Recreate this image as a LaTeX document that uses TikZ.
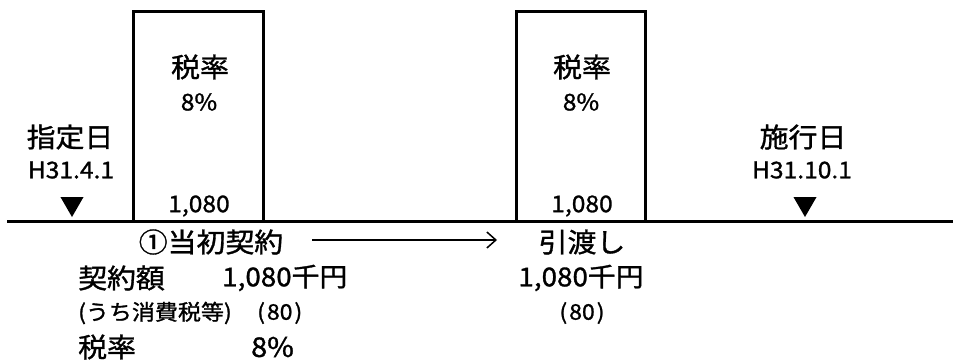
\documentclass[tikz,border=0pt]{standalone}
\usepackage{fontspec}
\setmainfont{Noto Sans CJK JP}[FakeStretch=1.07, FakeBold=1.2]
\usetikzlibrary{arrows.meta,shapes.geometric}
\begin{document}
\begin{tikzpicture}[x=1pt,y=-1pt,
  big/.style={font=\fontsize{27}{30}\selectfont, inner sep=0pt},
  amount/.style={font=\fontsize{26}{30}\selectfont, inner sep=0pt},
  mid/.style={font=\fontsize{23}{26}\selectfont, inner sep=0pt},
  small/.style={font=\fontsize{21.5}{24}\selectfont, inner sep=0pt},
  period/.style={draw=black, line width=3pt},
  datemark/.style={regular polygon, regular polygon sides=3, shape border rotate=180, fill=black, draw=none, minimum size=26.6pt, inner sep=0pt}
]
\useasboundingbox (0,0) rectangle (953,361);
% timeline
\coordinate (L0) at (7,221);
\coordinate (L1) at (953,221);
\draw[line width=3pt] (L0) -- (L1);
% boxes
\draw[period] (133,221) -- (133,12) -- (263,12) -- (263,221);
\draw[period] (516,221) -- (516,12) -- (645,12) -- (645,221);
% box texts
\node[big] (r1) at (200,67) {税率};
\node[mid] (p1) at (199,102) {8\%};
\node[mid] (a1) at (199,206) {1,080};
\node[big] (r2) at (582,67) {税率};
\node[mid] (p2) at (581,102) {8\%};
\node[mid] (a2) at (582,206) {1,080};
% dates
\node[big] (d1) at (70,137) {指定日};
\node[mid] (d1b) at (71,170) {H31.4.1};
\node[datemark] (t1) at (72,203.7) {};
\node[big] (d2) at (803,137) {施行日};
\node[mid] (d2b) at (802,170) {H31.10.1};
\node[datemark] (t2) at (805,203.7) {};
% below line
\node[big] (c1) at (211,242) {①当初契約};
\node[big] (h1) at (582,242) {引渡し};
\coordinate (ae) at (497,240);
\coordinate (as) at (312,240);
\draw[line width=1.5pt, -{Straight Barb[length=9pt,width=16pt]}] (as) -- (ae);
\node[big, anchor=west] (k1) at (78,278) {契約額};
\node[amount, anchor=west] (k2) at (222,278) {1,080千円};
\node[small, anchor=west] (k3) at (78,313) {(うち消費税等)};
\node[small, anchor=west] (k4) at (257,313) {(\kern2pt80\kern2pt)};
\node[big, anchor=west] (k5) at (78,347) {税率};
\node[big, anchor=west] (k6) at (251,347) {8\%};
\node[amount] (m1) at (581,278) {1,080千円};
\node[small] (m2) at (582,313) {(\kern2pt80\kern2pt)};
\end{tikzpicture}
\end{document}
